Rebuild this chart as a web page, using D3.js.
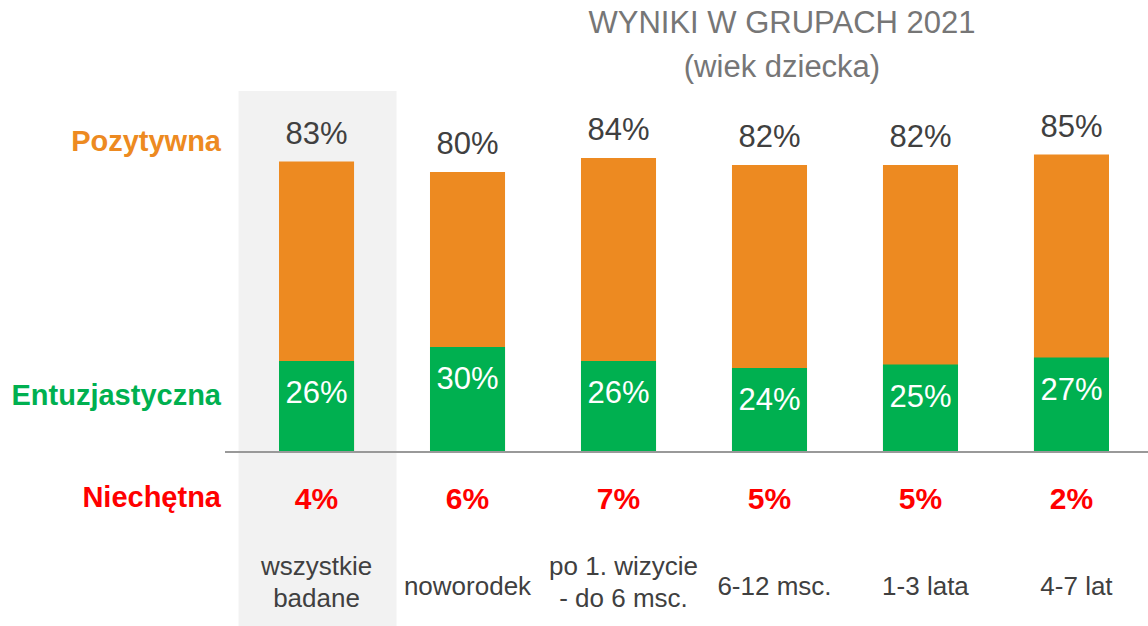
<!DOCTYPE html>
<html>
<head>
<meta charset="utf-8">
<script src="https://cdn.jsdelivr.net/npm/d3@7"></script>
<style>
  body { margin: 0; background: #fff; }
  svg { display: block; font-family: "Liberation Sans", Arial, sans-serif; }
</style>
</head>
<body>
<script>
const w = 1148;
const h = 626;

// dane
const groups = [["wszystkie", "badane"], ["noworodek"], ["po 1. wizycie", "- do 6 msc."], ["6-12 msc."], ["1-3 lata"], ["4-7 lat"]];
const positive = [83, 80, 84, 82, 82, 85];
const enthusiastic = [26, 30, 26, 24, 25, 27];
const reluctant = [4, 6, 7, 5, 5, 2];
const rowLabels = ["Pozytywna", "Entuzjastyczna", "Niechętna"];
const titleLines = ["WYNIKI W GRUPACH 2021", "(wiek dziecka)"];

const orange = "#ED8A21";
const green = "#00B050";
const red = "#FF0000";

const keys = groups.map((g) => g.join(" "));

const xScale = d3.scaleBand()
  .domain(keys)
  .range([241, 1147])
  .paddingInner(0.503)
  .paddingOuter(0.2517);

const yScale = d3.scaleLinear()
  .domain([0, 100])
  .range([452, 102]);

const svg = d3.select("body")
  .append("svg")
  .attr("width", w)
  .attr("height", h);

// szare tło pierwszej grupy
svg.append("rect")
  .attr("x", xScale(keys[0]) + xScale.bandwidth() / 2 - 78)
  .attr("y", 91)
  .attr("width", 158)
  .attr("height", h - 91)
  .attr("fill", "#F2F2F2");

// tytuł
svg.append("text")
  .attr("x", 782)
  .attr("y", 33)
  .attr("text-anchor", "middle")
  .attr("fill", "#767676")
  .style("font-size", "31px")
  .selectAll("tspan")
  .data(titleLines)
  .enter()
  .append("tspan")
  .attr("x", 782)
  .attr("dy", (d, i) => i === 0 ? 0 : 44)
  .text((d) => d);

// słupki pozytywne
svg.selectAll("rect.pos")
  .data(positive)
  .enter()
  .append("rect")
  .attr("class", "pos")
  .attr("x", (d, i) => xScale(keys[i]))
  .attr("y", (d) => yScale(d))
  .attr("width", xScale.bandwidth())
  .attr("height", (d) => yScale(0) - yScale(d))
  .attr("fill", orange);

// słupki entuzjastyczne
svg.selectAll("rect.ent")
  .data(enthusiastic)
  .enter()
  .append("rect")
  .attr("class", "ent")
  .attr("x", (d, i) => xScale(keys[i]))
  .attr("y", (d) => yScale(d))
  .attr("width", xScale.bandwidth())
  .attr("height", (d) => yScale(0) - yScale(d))
  .attr("fill", green);

const cx = (i) => xScale(keys[i]) + xScale.bandwidth() / 2;

svg.selectAll("text.posLbl")
  .data(positive)
  .enter()
  .append("text")
  .attr("class", "posLbl")
  .attr("x", (d, i) => cx(i))
  .attr("y", (d) => yScale(d) - 18)
  .attr("text-anchor", "middle")
  .attr("fill", "#404040")
  .style("font-size", "31px")
  .text((d) => d + "%");

svg.selectAll("text.entLbl")
  .data(enthusiastic)
  .enter()
  .append("text")
  .attr("class", "entLbl")
  .attr("x", (d, i) => cx(i))
  .attr("y", (d) => yScale(d) + 42)
  .attr("text-anchor", "middle")
  .attr("fill", "#fff")
  .style("font-size", "31px")
  .text((d) => d + "%");

// linia bazowa
svg.append("line")
  .attr("x1", 225)
  .attr("x2", w)
  .attr("y1", yScale(0))
  .attr("y2", yScale(0))
  .attr("stroke", "#999")
  .attr("stroke-width", 2);

svg.selectAll("text.relLbl")
  .data(reluctant)
  .enter()
  .append("text")
  .attr("class", "relLbl")
  .attr("x", (d, i) => cx(i))
  .attr("y", 509)
  .attr("text-anchor", "middle")
  .attr("fill", red)
  .style("font-size", "30px")
  .style("font-weight", "bold")
  .text((d) => d + "%");

// etykiety grup
svg.selectAll("text.cat")
  .data(groups)
  .enter()
  .append("text")
  .attr("class", "cat")
  .attr("text-anchor", "middle")
  .attr("fill", "#404040")
  .style("font-size", "26px")
  .each(function(d, i) {
    const t = d3.select(this);
    const y0 = d.length === 1 ? 595 : 575;
    d.forEach((line, j) => {
      t.append("tspan")
        .attr("x", cx(i) + (i > 1 ? 5 : 0))
        .attr("y", y0 + j * 32)
        .text(line);
    });
  });

// etykiety wierszy
const rowY = [151, 405, 507];
const rowColors = [orange, green, red];
svg.selectAll("text.row")
  .data(rowLabels)
  .enter()
  .append("text")
  .attr("class", "row")
  .attr("x", 221)
  .attr("y", (d, i) => rowY[i])
  .attr("text-anchor", "end")
  .attr("fill", (d, i) => rowColors[i])
  .style("font-size", "29px")
  .style("font-weight", "bold")
  .text((d) => d);
</script>
</body>
</html>
